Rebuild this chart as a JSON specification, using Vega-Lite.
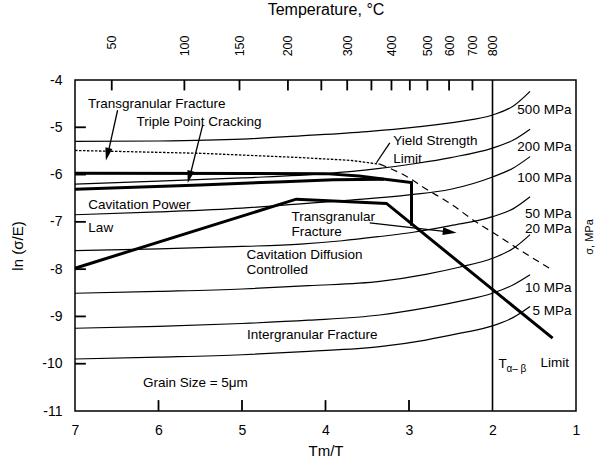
{
  "$schema": "https://vega.github.io/schema/vega-lite/v6.json",
  "width": 501,
  "height": 331,
  "autosize": {"type": "none"},
  "padding": {"left": 75, "top": 80, "right": 19, "bottom": 50},
  "background": "white",
  "config": {
    "view": {"stroke": "black", "strokeWidth": 1.5},
    "font": "Liberation Sans",
    "axis": {"grid": false, "domain": false, "ticks": false, "labelFont": "Liberation Sans", "titleFont": "Liberation Sans", "labelColor": "black", "titleColor": "black", "titleFontWeight": "normal", "labelFontSize": 14, "titleFontSize": 15},
    "text": {"font": "Liberation Sans", "fontSize": 13.5, "color": "black"}
  },
  "datasets": {
    "curves": [
      {"c": "500", "o": 1, "x": 7, "y": -5.30}, {"c": "500", "o": 2, "x": 6, "y": -5.29}, {"c": "500", "o": 3, "x": 5, "y": -5.25}, {"c": "500", "o": 4, "x": 4.3, "y": -5.18}, {"c": "500", "o": 5, "x": 3.5, "y": -5.09}, {"c": "500", "o": 6, "x": 2.9, "y": -4.99}, {"c": "500", "o": 7, "x": 2.4, "y": -4.88}, {"c": "500", "o": 8, "x": 2.0, "y": -4.74}, {"c": "500", "o": 9, "x": 1.75, "y": -4.55}, {"c": "500", "o": 10, "x": 1.55, "y": -4.24},
      {"c": "200", "o": 1, "x": 7, "y": -6.20}, {"c": "200", "o": 2, "x": 6, "y": -6.14}, {"c": "200", "o": 3, "x": 5, "y": -6.07}, {"c": "200", "o": 4, "x": 4, "y": -5.98}, {"c": "200", "o": 5, "x": 3.4, "y": -5.88}, {"c": "200", "o": 6, "x": 2.9, "y": -5.76}, {"c": "200", "o": 7, "x": 2.5, "y": -5.64}, {"c": "200", "o": 8, "x": 2.0, "y": -5.44}, {"c": "200", "o": 9, "x": 1.75, "y": -5.27}, {"c": "200", "o": 10, "x": 1.55, "y": -5.04},
      {"c": "100", "o": 1, "x": 7, "y": -6.85}, {"c": "100", "o": 2, "x": 6, "y": -6.79}, {"c": "100", "o": 3, "x": 5, "y": -6.71}, {"c": "100", "o": 4, "x": 4.3, "y": -6.62}, {"c": "100", "o": 5, "x": 3.7, "y": -6.54}, {"c": "100", "o": 6, "x": 3.0, "y": -6.43}, {"c": "100", "o": 7, "x": 2.5, "y": -6.31}, {"c": "100", "o": 8, "x": 2.0, "y": -6.05}, {"c": "100", "o": 9, "x": 1.75, "y": -5.86}, {"c": "100", "o": 10, "x": 1.55, "y": -5.62},
      {"c": "50", "o": 1, "x": 7, "y": -7.61}, {"c": "50", "o": 2, "x": 6, "y": -7.57}, {"c": "50", "o": 3, "x": 5, "y": -7.52}, {"c": "50", "o": 4, "x": 4.3, "y": -7.47}, {"c": "50", "o": 5, "x": 3.8, "y": -7.40}, {"c": "50", "o": 6, "x": 3.35, "y": -7.31}, {"c": "50", "o": 7, "x": 2.95, "y": -7.22}, {"c": "50", "o": 8, "x": 2.5, "y": -7.08}, {"c": "50", "o": 9, "x": 2.0, "y": -6.89}, {"c": "50", "o": 10, "x": 1.75, "y": -6.72}, {"c": "50", "o": 11, "x": 1.55, "y": -6.47},
      {"c": "20", "o": 1, "x": 7, "y": -8.51}, {"c": "20", "o": 2, "x": 6, "y": -8.47}, {"c": "20", "o": 3, "x": 5, "y": -8.42}, {"c": "20", "o": 4, "x": 4.2, "y": -8.35}, {"c": "20", "o": 5, "x": 3.35, "y": -8.26}, {"c": "20", "o": 6, "x": 2.8, "y": -8.11}, {"c": "20", "o": 7, "x": 2.4, "y": -7.96}, {"c": "20", "o": 8, "x": 2.0, "y": -7.77}, {"c": "20", "o": 9, "x": 1.75, "y": -7.56}, {"c": "20", "o": 10, "x": 1.55, "y": -7.27},
      {"c": "10", "o": 1, "x": 7, "y": -9.25}, {"c": "10", "o": 2, "x": 6, "y": -9.21}, {"c": "10", "o": 3, "x": 5, "y": -9.15}, {"c": "10", "o": 4, "x": 4.2, "y": -9.08}, {"c": "10", "o": 5, "x": 3.35, "y": -8.97}, {"c": "10", "o": 6, "x": 2.8, "y": -8.82}, {"c": "10", "o": 7, "x": 2.4, "y": -8.68}, {"c": "10", "o": 8, "x": 2.0, "y": -8.51}, {"c": "10", "o": 9, "x": 1.75, "y": -8.33}, {"c": "10", "o": 10, "x": 1.55, "y": -8.12},
      {"c": "5", "o": 1, "x": 7, "y": -9.90}, {"c": "5", "o": 2, "x": 6, "y": -9.86}, {"c": "5", "o": 3, "x": 5, "y": -9.81}, {"c": "5", "o": 4, "x": 4.2, "y": -9.74}, {"c": "5", "o": 5, "x": 3.35, "y": -9.64}, {"c": "5", "o": 6, "x": 2.8, "y": -9.50}, {"c": "5", "o": 7, "x": 2.4, "y": -9.36}, {"c": "5", "o": 8, "x": 2.0, "y": -9.20}, {"c": "5", "o": 9, "x": 1.75, "y": -9.02}, {"c": "5", "o": 10, "x": 1.55, "y": -8.79}
    ],
    "thick": [
      {"c": "T1", "o": 1, "x": 7, "y": -5.97}, {"c": "T1", "o": 2, "x": 4.0, "y": -5.98}, {"c": "T1", "o": 3, "x": 3.6, "y": -6.03}, {"c": "T1", "o": 4, "x": 2.97, "y": -6.17}, {"c": "T1", "o": 5, "x": 2.97, "y": -7.08},
      {"c": "T2", "o": 1, "x": 7, "y": -6.31}, {"c": "T2", "o": 2, "x": 5.5, "y": -6.22}, {"c": "T2", "o": 3, "x": 4.5, "y": -6.15}, {"c": "T2", "o": 4, "x": 3.9, "y": -6.11}, {"c": "T2", "o": 5, "x": 3.3, "y": -6.10},
      {"c": "T3", "o": 1, "x": 7, "y": -7.98}, {"c": "T3", "o": 2, "x": 4.35, "y": -6.52}, {"c": "T3", "o": 3, "x": 3.27, "y": -6.61}, {"c": "T3", "o": 4, "x": 1.28, "y": -9.46}
    ],
    "yieldDot": [
      {"o": 1, "x": 7, "y": -5.49}, {"o": 2, "x": 5.5, "y": -5.55}, {"o": 3, "x": 4.3, "y": -5.64}, {"o": 4, "x": 3.7, "y": -5.70}, {"o": 5, "x": 3.35, "y": -5.78}
    ],
    "yieldDash": [
      {"o": 1, "x": 3.35, "y": -5.78}, {"o": 2, "x": 3.05, "y": -6.02}, {"o": 3, "x": 2.8, "y": -6.30}, {"o": 4, "x": 2.5, "y": -6.62}, {"o": 5, "x": 2.2, "y": -7.0}, {"o": 6, "x": 2.0, "y": -7.22}, {"o": 7, "x": 1.65, "y": -7.62}, {"o": 8, "x": 1.32, "y": -7.98}
    ],
    "alphabeta": [
      {"o": 1, "x": 2, "y": -11}, {"o": 2, "x": 2, "y": -4}
    ],
    "ticks": [
      {"k": "b6", "o": 1, "x": 6, "y": -11}, {"k": "b6", "o": 2, "x": 6, "y": -10.77},
      {"k": "b5", "o": 1, "x": 5, "y": -11}, {"k": "b5", "o": 2, "x": 5, "y": -10.77},
      {"k": "b4", "o": 1, "x": 4, "y": -11}, {"k": "b4", "o": 2, "x": 4, "y": -10.77},
      {"k": "b3", "o": 1, "x": 3, "y": -11}, {"k": "b3", "o": 2, "x": 3, "y": -10.77},
      {"k": "t50", "o": 1, "x": 6.56, "y": -4}, {"k": "t50", "o": 2, "x": 6.56, "y": -4.22},
      {"k": "t100", "o": 1, "x": 5.69, "y": -4}, {"k": "t100", "o": 2, "x": 5.69, "y": -4.22},
      {"k": "t150", "o": 1, "x": 5.03, "y": -4}, {"k": "t150", "o": 2, "x": 5.03, "y": -4.22},
      {"k": "t200", "o": 1, "x": 4.45, "y": -4}, {"k": "t200", "o": 2, "x": 4.45, "y": -4.22},
      {"k": "t250", "o": 1, "x": 4.05, "y": -4}, {"k": "t250", "o": 2, "x": 4.05, "y": -4.22},
      {"k": "t300", "o": 1, "x": 3.74, "y": -4}, {"k": "t300", "o": 2, "x": 3.74, "y": -4.22},
      {"k": "t350", "o": 1, "x": 3.45, "y": -4}, {"k": "t350", "o": 2, "x": 3.45, "y": -4.22},
      {"k": "t400", "o": 1, "x": 3.21, "y": -4}, {"k": "t400", "o": 2, "x": 3.21, "y": -4.22},
      {"k": "t450", "o": 1, "x": 2.99, "y": -4}, {"k": "t450", "o": 2, "x": 2.99, "y": -4.22},
      {"k": "t500", "o": 1, "x": 2.78, "y": -4}, {"k": "t500", "o": 2, "x": 2.78, "y": -4.22},
      {"k": "t600", "o": 1, "x": 2.52, "y": -4}, {"k": "t600", "o": 2, "x": 2.52, "y": -4.22},
      {"k": "t700", "o": 1, "x": 2.24, "y": -4}, {"k": "t700", "o": 2, "x": 2.24, "y": -4.22},
      {"k": "l5", "o": 1, "x": 7, "y": -5}, {"k": "l5", "o": 2, "x": 6.87, "y": -5},
      {"k": "l6", "o": 1, "x": 7, "y": -6}, {"k": "l6", "o": 2, "x": 6.87, "y": -6},
      {"k": "l7", "o": 1, "x": 7, "y": -7}, {"k": "l7", "o": 2, "x": 6.87, "y": -7},
      {"k": "l8", "o": 1, "x": 7, "y": -8}, {"k": "l8", "o": 2, "x": 6.87, "y": -8},
      {"k": "l9", "o": 1, "x": 7, "y": -9}, {"k": "l9", "o": 2, "x": 6.87, "y": -9},
      {"k": "l10", "o": 1, "x": 7, "y": -10}, {"k": "l10", "o": 2, "x": 6.87, "y": -10}
    ],
    "arrows": [
      {"a": "a1", "o": 1, "x": 6.49, "y": -4.64}, {"a": "a1", "o": 2, "x": 6.615, "y": -5.63},
      {"a": "a2", "o": 1, "x": 5.47, "y": -4.95}, {"a": "a2", "o": 2, "x": 5.635, "y": -6.11},
      {"a": "a3", "o": 1, "x": 3.23, "y": -5.33}, {"a": "a3", "o": 2, "x": 3.39, "y": -5.75},
      {"a": "a4", "o": 1, "x": 3.47, "y": -7.02}, {"a": "a4", "o": 2, "x": 2.5, "y": -7.215}
    ],
    "heads": [
      {"a": "a1", "x": 6.63, "y": -5.70},
      {"a": "a2", "x": 5.65, "y": -6.18},
      {"a": "a4", "x": 2.43, "y": -7.23}
    ],
    "labels": [
      {"t": "Transgranular Fracture", "x": 6.845, "y": -4.507},
      {"t": "Triple Point Cracking", "x": 6.262, "y": -4.88},
      {"t": "Yield Strength", "x": 3.19, "y": -5.30},
      {"t": "Limit", "x": 3.19, "y": -5.68},
      {"t": "Cavitation Power", "x": 6.84, "y": -6.64},
      {"t": "Law", "x": 6.84, "y": -7.135},
      {"t": "Transgranular", "x": 4.408, "y": -6.89},
      {"t": "Fracture", "x": 4.408, "y": -7.207},
      {"t": "Cavitation Diffusion", "x": 4.946, "y": -7.70},
      {"t": "Controlled", "x": 4.946, "y": -8.017},
      {"t": "Intergranular Fracture", "x": 4.94, "y": -9.39},
      {"t": "Grain Size = 5μm", "x": 6.187, "y": -10.406},
      {"t": "T", "x": 1.928, "y": -10.004},
      {"t": "Limit", "x": 1.426, "y": -9.98}
    ],
    "mpa": [
      {"t": "500 MPa", "x": 1.055, "y": -4.634},
      {"t": "200 MPa", "x": 1.055, "y": -5.416},
      {"t": "100 MPa", "x": 1.055, "y": -6.072},
      {"t": "50 MPa", "x": 1.055, "y": -6.833},
      {"t": "20 MPa", "x": 1.055, "y": -7.15},
      {"t": "10 MPa", "x": 1.055, "y": -8.397},
      {"t": "5 MPa", "x": 1.055, "y": -8.884}
    ],
    "subs": [
      {"t": "α– β", "x": 1.833, "y": -10.11}
    ],
    "sigma": [
      {"t": "σ, MPa", "x": 0.828, "y": -7.32}
    ]
  },
  "resolve": {"axis": {"x": "independent", "y": "independent"}},
  "layer": [
    {
      "data": {"name": "curves"},
      "mark": {"type": "line", "color": "black", "strokeWidth": 1.2, "interpolate": "monotone"},
      "encoding": {
        "x": {"field": "x", "type": "quantitative", "scale": {"domain": [7, 1], "nice": false, "zero": false},
          "axis": {"orient": "bottom", "values": [7, 6, 5, 4, 3, 2, 1], "labelPadding": 12, "format": "d", "labelFlush": false, "labelOverlap": false, "title": "Tm/T", "titlePadding": 6}},
        "y": {"field": "y", "type": "quantitative", "scale": {"domain": [-11, -4], "nice": false, "zero": false},
          "axis": {"orient": "left", "values": [-4, -5, -6, -7, -8, -9, -10, -11], "labelPadding": 13, "format": "d", "labelExpr": "replace(datum.label, '−', '-')", "labelFlush": false, "labelOverlap": false, "title": "ln (σ/E)", "titlePadding": 16}},
        "detail": {"field": "c"},
        "order": {"field": "o", "type": "quantitative"}
      }
    },
    {
      "data": {"name": "alphabeta"},
      "mark": {"type": "line", "color": "black", "strokeWidth": 1.6},
      "encoding": {
        "x": {"field": "x", "type": "quantitative", "scale": {"domain": [7, 1], "nice": false, "zero": false},
          "axis": {"orient": "top", "values": [6.56, 5.69, 5.03, 4.45, 4.05, 3.74, 3.45, 3.21, 2.99, 2.78, 2.52, 2.24, 2.0], "labelPadding": 45, "labelAngle": 270, "labelAlign": "right", "labelBaseline": "middle", "labelFontSize": 12.5, "labelFlush": false, "labelOverlap": false,
            "labelExpr": "datum.value > 6 ? '50' : datum.value > 5.3 ? '100' : datum.value > 4.8 ? '150' : datum.value > 4.3 ? '200' : datum.value > 3.9 ? '' : datum.value > 3.6 ? '300' : datum.value > 3.3 ? '' : datum.value > 3.1 ? '400' : datum.value > 2.9 ? '' : datum.value > 2.65 ? '500' : datum.value > 2.4 ? '600' : datum.value > 2.1 ? '700' : '800'",
            "title": "Temperature, °C", "titlePadding": 18, "titleFontSize": 16}},
        "y": {"field": "y", "type": "quantitative", "axis": null},
        "order": {"field": "o", "type": "quantitative"}
      }
    },
    {
      "data": {"name": "ticks"},
      "mark": {"type": "line", "color": "black", "strokeWidth": 1.8},
      "encoding": {
        "x": {"field": "x", "type": "quantitative", "axis": null},
        "y": {"field": "y", "type": "quantitative", "axis": null},
        "detail": {"field": "k"},
        "order": {"field": "o", "type": "quantitative"}
      }
    },
    {
      "data": {"name": "thick"},
      "mark": {"type": "line", "color": "black", "strokeWidth": 3, "strokeJoin": "miter"},
      "encoding": {
        "x": {"field": "x", "type": "quantitative", "axis": null},
        "y": {"field": "y", "type": "quantitative", "axis": null},
        "detail": {"field": "c"},
        "order": {"field": "o", "type": "quantitative"}
      }
    },
    {
      "data": {"name": "yieldDot"},
      "mark": {"type": "line", "color": "black", "strokeWidth": 1.3, "strokeDash": [2.5, 1.5]},
      "encoding": {
        "x": {"field": "x", "type": "quantitative", "axis": null},
        "y": {"field": "y", "type": "quantitative", "axis": null},
        "order": {"field": "o", "type": "quantitative"}
      }
    },
    {
      "data": {"name": "yieldDash"},
      "mark": {"type": "line", "color": "black", "strokeWidth": 1.2, "strokeDash": [7, 5], "interpolate": "monotone"},
      "encoding": {
        "x": {"field": "x", "type": "quantitative", "axis": null},
        "y": {"field": "y", "type": "quantitative", "axis": null},
        "order": {"field": "o", "type": "quantitative"}
      }
    },
    {
      "data": {"name": "arrows"},
      "mark": {"type": "line", "color": "black", "strokeWidth": 1.3},
      "encoding": {
        "x": {"field": "x", "type": "quantitative", "axis": null},
        "y": {"field": "y", "type": "quantitative", "axis": null},
        "detail": {"field": "a"},
        "order": {"field": "o", "type": "quantitative"}
      }
    },
    {
      "data": {"name": "heads"},
      "transform": [{"filter": "datum.a == 'a1'"}],
      "mark": {"type": "point", "shape": "M0,0L-0.45,-1.6L0.45,-1.6Z", "filled": true, "color": "black", "opacity": 1, "size": 250, "angle": 13.5},
      "encoding": {
        "x": {"field": "x", "type": "quantitative", "axis": null},
        "y": {"field": "y", "type": "quantitative", "axis": null}
      }
    },
    {
      "data": {"name": "heads"},
      "transform": [{"filter": "datum.a == 'a2'"}],
      "mark": {"type": "point", "shape": "M0,0L-0.45,-1.6L0.45,-1.6Z", "filled": true, "color": "black", "opacity": 1, "size": 250, "angle": 14.5},
      "encoding": {
        "x": {"field": "x", "type": "quantitative", "axis": null},
        "y": {"field": "y", "type": "quantitative", "axis": null}
      }
    },
    {
      "data": {"name": "heads"},
      "transform": [{"filter": "datum.a == 'a4'"}],
      "mark": {"type": "point", "shape": "M0,0L-0.45,-1.6L0.45,-1.6Z", "filled": true, "color": "black", "opacity": 1, "size": 300, "angle": 276.2},
      "encoding": {
        "x": {"field": "x", "type": "quantitative", "axis": null},
        "y": {"field": "y", "type": "quantitative", "axis": null}
      }
    },
    {
      "data": {"name": "labels"},
      "mark": {"type": "text", "align": "left", "baseline": "middle"},
      "encoding": {
        "x": {"field": "x", "type": "quantitative", "axis": null},
        "y": {"field": "y", "type": "quantitative", "axis": null},
        "text": {"field": "t"}
      }
    },
    {
      "data": {"name": "mpa"},
      "mark": {"type": "text", "align": "right", "baseline": "middle"},
      "encoding": {
        "x": {"field": "x", "type": "quantitative", "axis": null},
        "y": {"field": "y", "type": "quantitative", "axis": null},
        "text": {"field": "t"}
      }
    },
    {
      "data": {"name": "subs"},
      "mark": {"type": "text", "align": "left", "baseline": "middle", "fontSize": 10},
      "encoding": {
        "x": {"field": "x", "type": "quantitative", "axis": null},
        "y": {"field": "y", "type": "quantitative", "axis": null},
        "text": {"field": "t"}
      }
    },
    {
      "data": {"name": "sigma"},
      "mark": {"type": "text", "align": "center", "baseline": "middle", "fontSize": 11, "angle": 270},
      "encoding": {
        "x": {"field": "x", "type": "quantitative", "axis": null},
        "y": {"field": "y", "type": "quantitative", "axis": null},
        "text": {"field": "t"}
      }
    }
  ]
}
